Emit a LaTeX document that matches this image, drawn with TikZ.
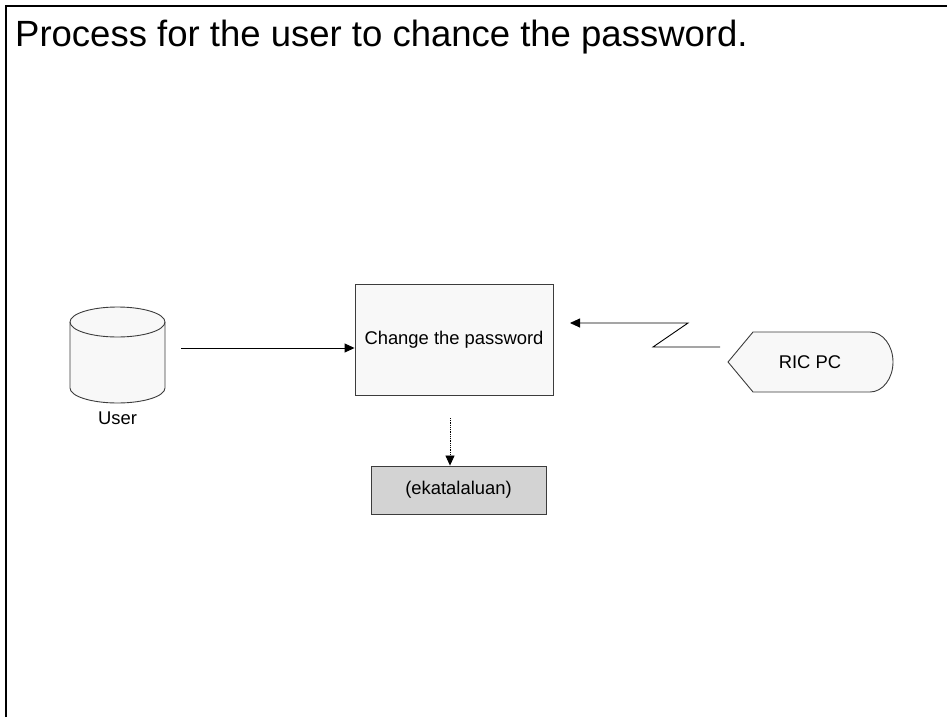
\documentclass[tikz,border=0pt]{standalone}
\usepackage{fontspec}
\setmainfont{Liberation Sans}
\usetikzlibrary{arrows.meta,positioning}
\definecolor{boxgray}{RGB}{248,248,248}
\definecolor{storegray}{RGB}{211,211,211}
\definecolor{edgegray}{RGB}{60,60,60}

\begin{document}
\begin{tikzpicture}[
  x=1pt, y=-1pt,
  proc/.style={rectangle, draw=edgegray, fill=boxgray, line width=0.9pt,
               minimum width=198pt, minimum height=111pt, inner sep=0pt,
               font=\fontsize{18.4}{20}\selectfont},
  store/.style={rectangle, draw=edgegray, fill=storegray, line width=0.9pt,
                minimum width=175pt, minimum height=48pt, inner sep=0pt,
                font=\fontsize{18.4}{20}\selectfont},
  shell/.style={draw=edgegray, fill=boxgray, line width=0.9pt},
  lbl/.style={font=\fontsize{18.4}{20}\selectfont, inner sep=0pt},
  arrow/.style={-{Triangle[length=10pt,width=9pt]}, line width=0.9pt},
  flow/.style={-{Triangle[length=10pt,width=9pt]}, line width=0.8pt, densely dotted}
]
\useasboundingbox (0,0) rectangle (947,717);
\draw[line width=2pt] (6,717) -- (6,6) -- (947,6);

\node[anchor=base west, inner sep=0pt, font=\fontsize{36.5}{40}\selectfont]
  (title) at (15,47) {Process for the user to chance the password.};

% user store, a drum
\node[minimum width=95pt, minimum height=96pt, inner sep=0pt] (user) at (117.5,355) {};
\draw[shell] (70,322) -- (70,388)
  arc[start angle=180, end angle=360, x radius=47.5pt, y radius=15pt]
  -- (165,322)
  arc[start angle=0, end angle=180, x radius=47.5pt, y radius=15pt] -- cycle;
\draw[shell, fill=none] (70,322)
  arc[start angle=180, end angle=360, x radius=47.5pt, y radius=15pt];
\node[lbl, below=8pt of user] (userlbl) {User};

\node[proc] (change) at (454,339.5) {Change the password};
\node[store] (ekata) at (458.5,490) {(ekatalaluan)};

% display shape of the remote pc
\draw[shell]
  (728,362) -- (753,332) -- (870,332)
  arc[start angle=90, end angle=-90, x radius=23pt, y radius=30pt]
  -- (753,392) -- cycle;
\node[lbl] (ricpc) at (810,362) {RIC PC};

\coordinate (ustart) at (181,348);
\coordinate (zfrom) at (720,347);
\coordinate (zto) at (570,323);
\coordinate (dstart) at (450,418);

\draw[arrow] (ustart) -- (change.west |- ustart);
\draw[arrow] (zfrom) -- ++(-67,0) -- ++(35,-24) -- (zto);
\draw[flow] (dstart) -- (ekata.north -| dstart);
\end{tikzpicture}
\end{document}
